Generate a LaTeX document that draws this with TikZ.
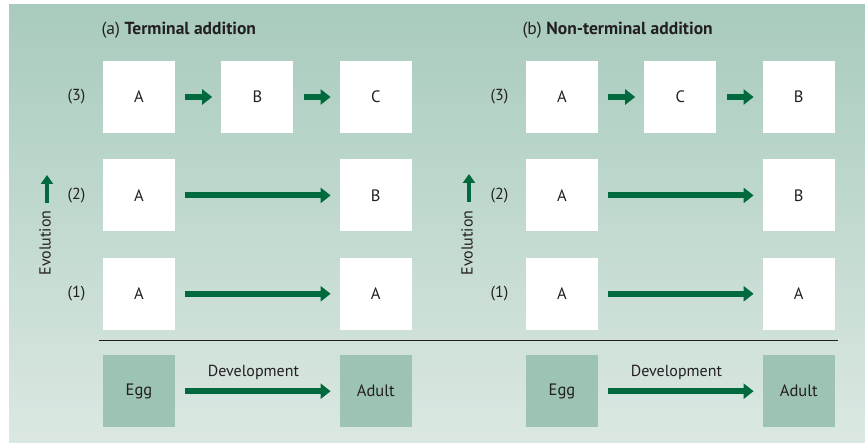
\documentclass[tikz,border=0pt]{standalone}
\usepackage{fontspec}
\setmainfont{PT Sans}
\usepackage{tikz}
\usetikzlibrary{arrows.meta, positioning}
\definecolor{bgtop}{HTML}{A8CBBD}
\definecolor{bgbot}{HTML}{DBE8E2}
\definecolor{stagefill}{HTML}{9DC4B3}
\definecolor{arrowgreen}{HTML}{00693E}
\definecolor{ink}{HTML}{231F20}
\tikzset{box/.style={rectangle,fill=white,minimum width=72pt,minimum height=72pt,inner sep=0pt,text=ink,font=\fontsize{16.5}{19}\selectfont},
  stage/.style={box,fill=stagefill},
  lbl/.style={text=ink,font=\fontsize{16}{19}\selectfont},
  heading/.style={text=ink,font=\fontsize{17.5}{21}\selectfont,anchor=west},
  line/.style={draw=arrowgreen,line width=6pt,-{Triangle[length=10pt,width=15pt]},shorten <=10pt,shorten >=9pt},
  evoline/.style={draw=arrowgreen,line width=4.5pt,-{Triangle[length=9pt,width=12pt]}}}

\begin{document}
\begin{tikzpicture}[x=1pt,y=-1pt,node distance=26pt and 46pt]
\fill[white] (0,0) rectangle (865,443);
\shade[top color=bgtop,bottom color=bgbot] (9,5) rectangle (865,443);

% (a) terminal addition
\node[heading] (ta) at (98,30) {(a) \textbf{Terminal addition}};
\node[box] (a3) at (139,97) {A};
\node[box, right=of a3] (b3) {B};
\node[box, right=of b3] (c3) {C};
\node[box, below=of a3] (a2) {A};
\node[box, below=of c3] (b2) {B};
\node[box, below=of a2] (a1) {A};
\node[box, below=of b2] (e1) {A};
\node[stage, below=25pt of a1] (egg) {Egg};
\node[stage, below=25pt of e1] (adult) {Adult};
\node[lbl, left=14pt of a3] (n3) {(3)};
\node[lbl, left=14pt of a2] (n2) {(2)};
\node[lbl, left=14pt of a1] (n1) {(1)};
\node[lbl, rotate=90] (evo) at (45,243) {Evolution};
\coordinate (evobase) at (47,203);
\coordinate (evotip) at (47,175);
\draw[line] (a3) -- (b3);
\draw[line] (b3) -- (c3);
\draw[line] (a2) -- (b2);
\draw[line] (a1) -- (e1);
\draw[line] (egg) -- node[lbl, above=5pt, xshift=-4pt] (dev) {Development} (adult);
\draw[evoline] (evobase) -- (evotip);

% (b) non-terminal addition
\node[heading] (tb) at (519,30) {(b) \textbf{Non-terminal addition}};
\node[box] (ra3) at (562,97) {A};
\node[box, right=of ra3] (rc3) {C};
\node[box, right=of rc3] (rb3) {B};
\node[box, below=of ra3] (ra2) {A};
\node[box, below=of rb3] (rb2) {B};
\node[box, below=of ra2] (ra1) {A};
\node[box, below=of rb2] (re1) {A};
\node[stage, below=25pt of ra1] (regg) {Egg};
\node[stage, below=25pt of re1] (radult) {Adult};
\node[lbl, left=14pt of ra3] (rn3) {(3)};
\node[lbl, left=14pt of ra2] (rn2) {(2)};
\node[lbl, left=14pt of ra1] (rn1) {(1)};
\node[lbl, rotate=90] (revo) at (467,243) {Evolution};
\coordinate (revobase) at (469,202);
\coordinate (revotip) at (469,174);
\draw[line] (ra3) -- (rc3);
\draw[line] (rc3) -- (rb3);
\draw[line] (ra2) -- (rb2);
\draw[line] (ra1) -- (re1);
\draw[line] (regg) -- node[lbl, above=5pt, xshift=-4pt] (rdev) {Development} (radult);
\draw[evoline] (revobase) -- (revotip);

% divider
\coordinate (divl) at (99,341);
\coordinate (divr) at (838,341);
\draw[ink, line width=1pt] (divl) -- (divr);
\end{tikzpicture}
\end{document}
